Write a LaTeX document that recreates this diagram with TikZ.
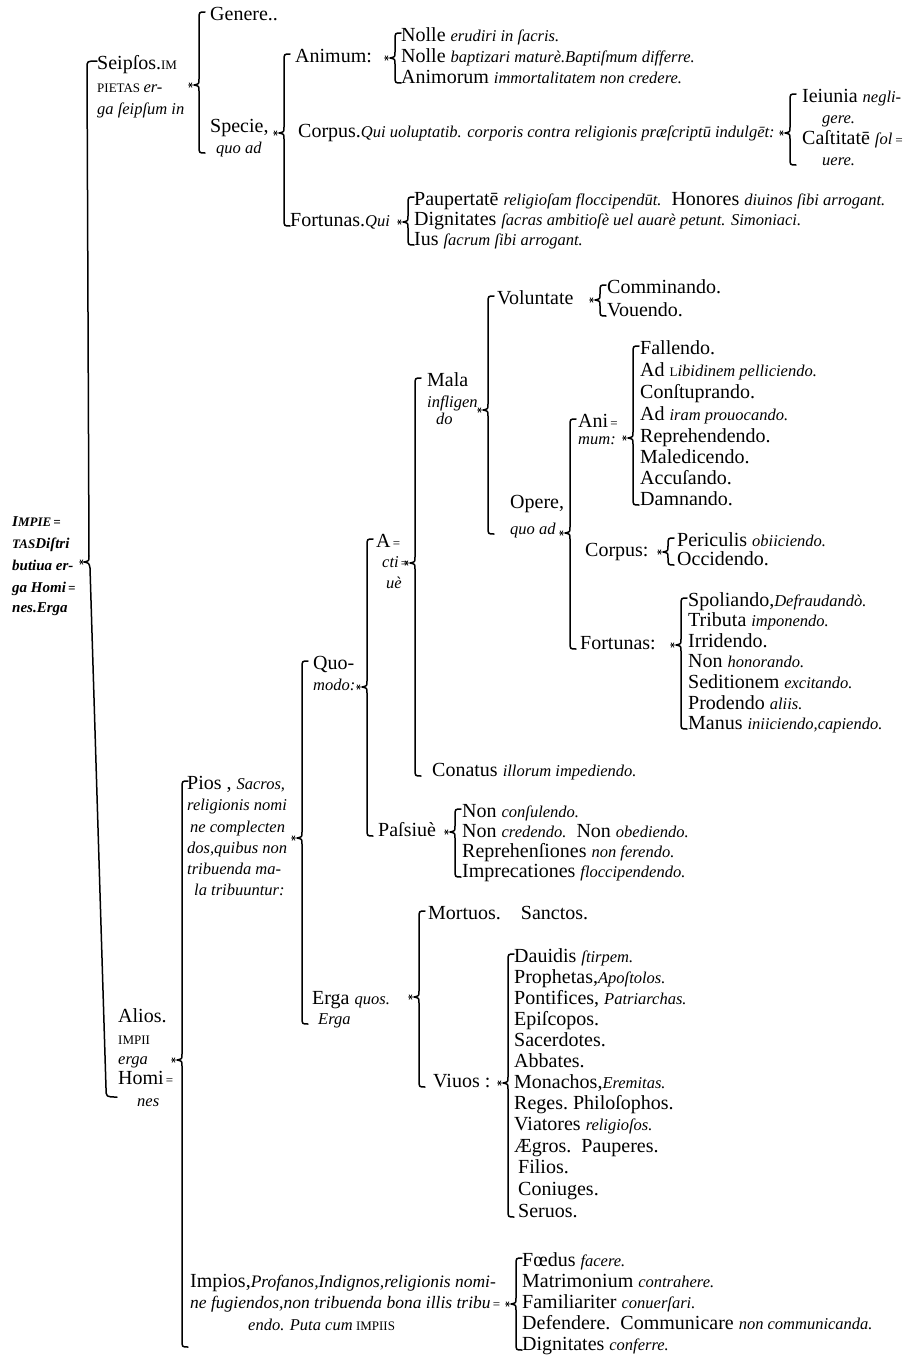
\documentclass[tikz,border=0pt]{standalone}
\usepackage{fontspec}
\setmainfont{Liberation Serif}
\usetikzlibrary{calc}
\newcommand\Rm{\fontsize{20}{21}\selectfont}
\newcommand\Ix[1]{{\fontsize{16.5}{21}\selectfont\itshape #1}}
\newcommand\Iw[1]{{\fontsize{17.5}{21}\selectfont\itshape #1}}
\newcommand\Sc[1]{{\fontsize{13}{21}\selectfont #1}}
\newcommand\Hy{{\fontsize{13}{21}\selectfont\,=}}
\newcommand\RootF{\fontsize{15}{21}\selectfont\bfseries\itshape}
% brace: #1 notch (node/coordinate), #2 first child, #3 last child, #4 x of the vertical
\newcommand\Brc[4]{%
  \draw[br] let \p1=(#2), \p2=(#3), \p3=(#1) in
    ({#4pt+6pt},{\y1+4pt}) .. controls ({#4pt},{\y1+4pt}) .. ({#4pt},{\y1-3pt})
    -- ({#4pt},{\y3+6pt}) .. controls ({#4pt},{\y3+1pt}) .. ({#4pt-5pt},{\y3})
    .. controls ({#4pt},{\y3-1pt}) .. ({#4pt},{\y3-6pt})
    -- ({#4pt},{\y2+3pt}) .. controls ({#4pt},{\y2-4pt}) .. ({#4pt+6pt},{\y2-4pt});
  \draw[star] let \p3=(#1) in
    ({#4pt-11pt},{\y3}) -- ({#4pt-6pt},{\y3})
    ({#4pt-10pt},{\y3+2.5pt}) -- ({#4pt-7pt},{\y3-2.5pt})
    ({#4pt-10pt},{\y3-2.5pt}) -- ({#4pt-7pt},{\y3+2.5pt});}
\tikzset{
  t/.style={anchor=west, inner sep=0pt, font=\Rm, execute at begin node=\strut},
  rt/.style={anchor=west, inner sep=0pt, font=\RootF, execute at begin node=\strut},
  br/.style={line width=1.5pt, line cap=round, line join=round},
  star/.style={line width=0.6pt},
}
\begin{document}
\begin{tikzpicture}[x=1pt,y=-1pt]
\useasboundingbox[fill=white] (0,0) rectangle (915,1361);
% ---------- root ----------
\node[rt] (r1) at (12,522) {I\Sc{MPIE}\Hy};
\node[rt] (r2) at (12,544) {\Sc{TAS}Diſtri};
\node[rt] (r3) at (12,566) {butiua er-};
\node[rt] (r4) at (12,588) {ga Homi\Hy};
\node[rt] (r5) at (12,608) {nes.Erga};
\coordinate (rtTop) at (97,61);
\coordinate (rtBot) at (117,1097);
% ---------- Seipsos ----------
\node[t] (s1) at (97,65) {Seipſos.\Sc{IM}};
\node[t] (s2) at (97,88) {\Sc{PIETAS}\,\Ix{er-}};
\node[t] (s3) at (97,110) {\Ix{ga ſeipſum in}};
\node[t] (gen) at (210,16) {Genere..};
\node[t] (spe1) at (210,128) {Specie,};
\node[t] (spe2) at (216,149) {\Ix{quo ad}};
\coordinate (kB1) at (199,85);
\node[t] (an) at (295,58) {Animum:};
\node[t] (n1) at (401,37) {Nolle \Ix{erudiri in ſacris.}};
\node[t] (n2) at (401,58) {Nolle \Ix{baptizari maturè.Baptiſmum differre.}};
\node[t] (n3) at (401,79) {Animorum \Ix{immortalitatem non credere.}};
\node[t] (cor) at (298,133) {Corpus.\Ix{Qui uoluptatib. corporis contra religionis præſcriptū indulgēt:}};
\coordinate (kB2) at (284,133);
\node[t] (ie1) at (802,98) {Ieiunia \Ix{negli-}};
\node[t] (ie2) at (822,119) {\Ix{gere.}};
\node[t] (ie3) at (802,140) {Caſtitatē \Ix{ſol\Hy}};
\node[t] (ie4) at (822,161) {\Ix{uere.}};
\node[t] (fo) at (290,222) {Fortunas.\Ix{Qui}};
\node[t] (p1) at (414,201) {Paupertatē \Ix{religioſam floccipendūt.}\ \ Honores \Ix{diuinos ſibi arrogant.}};
\node[t] (p2) at (414,221) {Dignitates \Ix{ſacras ambitioſè uel auarè petunt. Simoniaci.}};
\node[t] (p3) at (414,241) {Ius \Ix{ſacrum ſibi arrogant.}};
% ---------- Alios ----------
\node[t] (al1) at (118,1018) {Alios.};
\node[t] (al2) at (118,1040) {\Sc{IMPII}};
\node[t] (al3) at (118,1060) {\Ix{erga}};
\node[t] (al4) at (118,1080) {Homi\Hy};
\node[t] (al5) at (137,1102) {\Ix{nes}};
\coordinate (kAl) at (182,1060);
\node[t] (pi1) at (187,785) {Pios , \Ix{Sacros,}};
\node[t] (pi2) at (187,806) {\Ix{religionis nomi}};
\node[t] (pi3) at (190,828) {\Ix{ne complecten}};
\node[t] (pi4) at (187,849) {\Ix{dos,quibus non}};
\node[t] (pi5) at (187,870) {\Ix{tribuenda ma-}};
\node[t] (pi6) at (194,891) {\Ix{la tribuuntur:}};
\coordinate (kPi) at (302,838);
\node[t] (qm1) at (313,665) {Quo-};
\node[t] (qm2) at (313,686) {\Ix{modo:}};
\coordinate (kQm) at (367,687);
\node[t] (ac1) at (376,543) {A\Hy};
\node[t] (ac2) at (382,563) {\Ix{cti}\Hy};
\node[t] (ac3) at (386,584) {\Ix{uè}};
\coordinate (kAc) at (415,563);
\node[t] (ma1) at (427,382) {Mala};
\node[t] (ma2) at (427,403) {\Ix{infligen}};
\node[t] (ma3) at (436,420) {\Ix{do}};
\coordinate (kMa) at (488,410);
\node[t] (vol) at (497,300) {Voluntate};
\node[t] (cm1) at (607,289) {Comminando.};
\node[t] (cm2) at (607,312) {Vouendo.};
\node[t] (op1) at (510,504) {Opere,};
\node[t] (op2) at (510,530) {\Ix{quo ad}};
\coordinate (kOp) at (570,533);
\node[t] (ani1) at (578,423) {Ani\Hy};
\node[t] (ani2) at (578,440) {\Ix{mum:}};
\coordinate (kAn) at (633,438);
\node[t] (fl1) at (640,350) {Fallendo.};
\node[t] (fl2) at (640,372) {Ad \Sc{L}\Ix{ibidinem pelliciendo.}};
\node[t] (fl3) at (640,394) {Conſtuprando.};
\node[t] (fl4) at (640,416) {Ad \Ix{iram prouocando.}};
\node[t] (fl5) at (640,438) {Reprehendendo.};
\node[t] (fl6) at (640,459) {Maledicendo.};
\node[t] (fl7) at (640,480) {Accuſando.};
\node[t] (fl8) at (640,501) {Damnando.};
\node[t] (cp) at (585,552) {Corpus:};
\node[t] (pc1) at (677,542) {Periculis \Ix{obiiciendo.}};
\node[t] (pc2) at (677,561) {Occidendo.};
\node[t] (fort2) at (580,645) {Fortunas:};
\node[t] (sp1) at (688,602) {Spoliando,\Ix{Defraudandò.}};
\node[t] (sp2) at (688,622) {Tributa \Ix{imponendo.}};
\node[t] (sp3) at (688,643) {Irridendo.};
\node[t] (sp4) at (688,663) {Non \Ix{honorando.}};
\node[t] (sp5) at (688,684) {Seditionem \Ix{excitando.}};
\node[t] (sp6) at (688,705) {Prodendo \Ix{aliis.}};
\node[t] (sp7) at (688,725) {Manus \Ix{iniiciendo,capiendo.}};
\node[t] (con) at (432,772) {Conatus \Ix{illorum impediendo.}};
\node[t] (pas) at (378,832) {Paſsiuè};
\node[t] (nc1) at (462,813) {Non \Ix{conſulendo.}};
\node[t] (nc2) at (462,833) {Non \Ix{credendo.}\ \ Non \Ix{obediendo.}};
\node[t] (nc3) at (462,853) {Reprehenſiones \Ix{non ferendo.}};
\node[t] (nc4) at (462,873) {Imprecationes \Ix{floccipendendo.}};
\node[t] (eq1) at (312,1000) {Erga \Ix{quos.}};
\node[t] (eq2) at (318,1020) {\Ix{Erga}};
\coordinate (kEq) at (419,997);
\node[t] (mo) at (428,915) {Mortuos.\quad Sanctos.};
\node[t] (vi) at (433,1083) {Viuos :};
\node[t] (dv1) at (514,958) {Dauidis \Ix{ſtirpem.}};
\node[t] (dv2) at (514,979) {Prophetas,\Ix{Apoſtolos.}};
\node[t] (dv3) at (514,1000) {Pontifices, \Ix{Patriarchas.}};
\node[t] (dv4) at (514,1021) {Epiſcopos.};
\node[t] (dv5) at (514,1042) {Sacerdotes.};
\node[t] (dv6) at (514,1063) {Abbates.};
\node[t] (dv7) at (514,1084) {Monachos,\Ix{Eremitas.}};
\node[t] (dv8) at (514,1105) {Reges.\ Philoſophos.};
\node[t] (dv9) at (514,1126) {Viatores \Ix{religioſos.}};
\node[t] (dv10) at (514,1148) {Ægros.\ \ Pauperes.};
\node[t] (dv11) at (518,1169) {Filios.};
\node[t] (dv12) at (518,1191) {Coniuges.};
\node[t] (dv13) at (518,1213) {Seruos.};
\node[t] (im1) at (190,1283) {Impios,\Iw{Profanos,Indignos,religionis nomi-}};
\node[t] (im2) at (190,1304) {\Iw{ne fugiendos,non tribuenda bona illis tribu}\Hy};
\node[t] (im3) at (248,1326) {\Ix{endo. Puta cum}\,\Sc{IMPIIS}};
\coordinate (impEnd) at (190,1343);
\coordinate (kIm) at (516,1304);
\node[t] (fd1) at (522,1262) {Fœdus \Ix{facere.}};
\node[t] (fd2) at (522,1283) {Matrimonium \Ix{contrahere.}};
\node[t] (fd3) at (522,1304) {Familiariter \Ix{conuerſari.}};
\node[t] (fd4) at (522,1325) {Defendere.\ \ Communicare \Ix{non communicanda.}};
\node[t] (fd5) at (522,1346) {Dignitates \Ix{conferre.}};
% ---------- braces ----------
\draw[br] (rtTop) .. controls (87,61) .. (87,68) -- (89,556)
  .. controls (89,561) .. (84,562) .. controls (89,563) .. (90,568)
  -- (106,1088) .. controls (106,1097) .. (rtBot);
\draw[star] (79,562) -- (84,562) (80,559.5) -- (83,564.5) (80,564.5) -- (83,559.5);
\Brc{kB1}{gen}{spe2}{199}
\Brc{kB2}{an}{fo}{284}
\Brc{an}{n1}{n3}{395}
\Brc{cor}{ie1}{ie4}{790}
\Brc{fo}{p1}{p3}{408}
\Brc{kAl}{pi1}{impEnd}{182}
\Brc{kPi}{qm1}{eq2}{302}
\Brc{kQm}{ac1}{pas}{367}
\Brc{kAc}{ma1}{con}{415}
\Brc{kMa}{vol}{op2}{488}
\Brc{vol}{cm1}{cm2}{600}
\Brc{kOp}{ani1}{fort2}{570}
\Brc{kAn}{fl1}{fl8}{633}
\Brc{cp}{pc1}{pc2}{668}
\Brc{fort2}{sp1}{sp7}{681}
\Brc{pas}{nc1}{nc4}{455}
\Brc{kEq}{mo}{vi}{419}
\Brc{vi}{dv1}{dv13}{508}
\Brc{kIm}{fd1}{fd5}{516}
\end{tikzpicture}
\end{document}
